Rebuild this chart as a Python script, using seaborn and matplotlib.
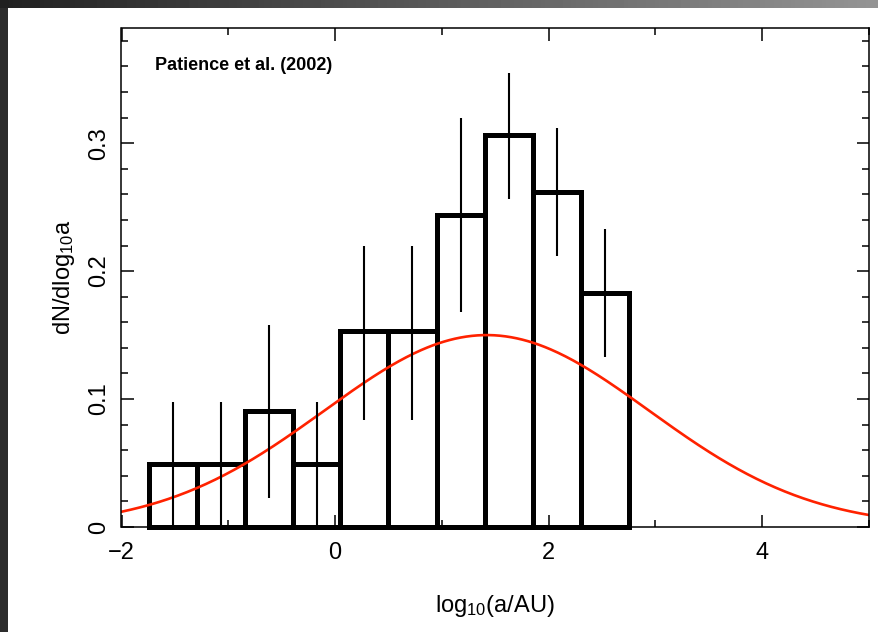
import numpy as np
import pandas as pd
import matplotlib
import matplotlib.pyplot as plt
import seaborn as sns
from matplotlib.patches import Rectangle
from matplotlib.ticker import MultipleLocator

# histogram (Patience et al. 2002)
bin_edges = [-1.74, -1.29, -0.84, -0.39, 0.05, 0.50, 0.95, 1.40, 1.85, 2.30, 2.75]
heights = [0.049, 0.049, 0.091, 0.049, 0.153, 0.153, 0.244, 0.306, 0.262, 0.183]
err_lo = [0.0, 0.0, 0.023, 0.0, 0.084, 0.084, 0.168, 0.256, 0.212, 0.133]
err_hi = [0.098, 0.098, 0.158, 0.098, 0.220, 0.220, 0.320, 0.355, 0.312, 0.233]

# log-normal model curve parameters
model_mu = 1.42
model_sigma = 1.52
model_peak = 0.15

x_ticks = [-2, 0, 2, 4]
x_ticklabels = ['\u22122', '0', '2', '4']
y_ticks = [0, 0.1, 0.2, 0.3]
y_ticklabels = ['0', '0.1', '0.2', '0.3']

sns.set_style('ticks')
plt.rcParams['font.family'] = ['Liberation Sans', 'DejaVu Sans']
plt.rcParams['mathtext.fontset'] = 'custom'
plt.rcParams['mathtext.rm'] = 'Liberation Sans'
for k in ['text.color', 'axes.labelcolor', 'xtick.color', 'ytick.color']:
    plt.rcParams[k] = 'black'

edges = np.array(bin_edges)
centers = (edges[:-1] + edges[1:]) / 2
xs = np.linspace(-2, 5, 400)
ys = model_peak * np.exp(-0.5 * ((xs - model_mu) / model_sigma) ** 2)

fig = plt.figure(figsize=(8.79, 6.32), dpi=100)
fig.patch.set_facecolor('#2c2c2c')
fig.add_artist(Rectangle((8 / 879, 0), 1, 1 - 8 / 632, transform=fig.transFigure,
                         facecolor='white', edgecolor='none', zorder=-10))
# grey gradient strip along the top
band = fig.add_axes([0, 1 - 8 / 632, 1, 8 / 632])
band.imshow(np.linspace(0.13, 0.58, 200)[None, :], cmap='gray', vmin=0, vmax=1,
            aspect='auto')
band.axis('off')

ax = fig.add_axes([121.5 / 879, 1 - 527 / 632, (869 - 121.5) / 879, (527 - 28) / 632])

sns.lineplot(x=xs, y=ys, ax=ax, color='#ff2200', linewidth=1.9)
sns.histplot(x=centers, weights=heights, bins=bin_edges, fill=False, ax=ax,
             color='black', linewidth=3.6)
for p in ax.patches:
    p.set_clip_on(False)
    p.set_joinstyle('miter')
ax.vlines(centers, err_lo, err_hi, color='black', linewidth=1.5)

ax.text(0.045, 0.924, 'Patience et al. (2002)', transform=ax.transAxes,
        fontsize=13, fontweight='bold', va='center')

ax.set_xlim(-2, 5)
ax.set_ylim(0, 0.39)
ax.set_xticks(x_ticks, labels=x_ticklabels)
ax.set_yticks(y_ticks, labels=y_ticklabels, rotation=90, va='center')
ax.xaxis.set_minor_locator(MultipleLocator(1))
ax.yaxis.set_minor_locator(MultipleLocator(0.02))
ax.tick_params(which='both', direction='in', top=True, right=True, width=1.1,
               color='black')
ax.tick_params(which='major', length=9, labelsize=17)
ax.tick_params(axis='x', which='major', pad=11)
ax.tick_params(axis='y', which='major', pad=8)
ax.tick_params(which='minor', length=5)
for s in ax.spines.values():
    s.set_linewidth(1.1)
    s.set_color('black')

ax.set_xlabel(r'$\mathregular{log_{10}(a/AU)}$', fontsize=17, labelpad=21)
ax.set_ylabel(r'$\mathregular{dN/dlog_{10}a}$', fontsize=17, labelpad=8)

fig.savefig('out.png', dpi=100, facecolor=fig.get_facecolor())
